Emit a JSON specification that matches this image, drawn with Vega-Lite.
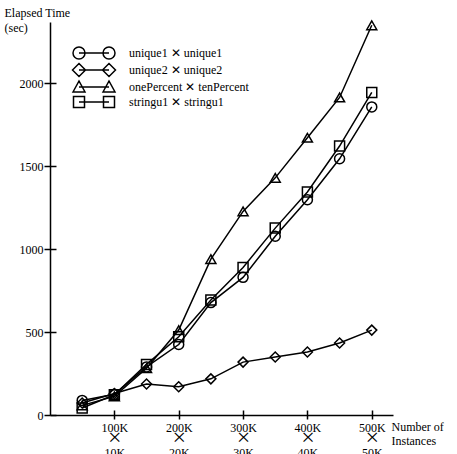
{
  "$schema": "https://vega.github.io/schema/vega-lite/v6.json",
  "width": 343,
  "height": 393,
  "autosize": "none",
  "padding": {"left": 50, "top": 22, "right": 64, "bottom": 39},
  "background": "white",
  "config": {"view": {"stroke": null}, "font": "Liberation Serif"},
  "data": {
    "values": [
      {"series": "unique1 ✕ unique1", "n": 50000, "time": 88},
      {"series": "unique1 ✕ unique1", "n": 100000, "time": 125},
      {"series": "unique1 ✕ unique1", "n": 150000, "time": 290},
      {"series": "unique1 ✕ unique1", "n": 200000, "time": 425},
      {"series": "unique1 ✕ unique1", "n": 250000, "time": 678},
      {"series": "unique1 ✕ unique1", "n": 300000, "time": 830},
      {"series": "unique1 ✕ unique1", "n": 350000, "time": 1078},
      {"series": "unique1 ✕ unique1", "n": 400000, "time": 1298},
      {"series": "unique1 ✕ unique1", "n": 450000, "time": 1545},
      {"series": "unique1 ✕ unique1", "n": 500000, "time": 1858},
      {"series": "unique2 ✕ unique2", "n": 50000, "time": 72},
      {"series": "unique2 ✕ unique2", "n": 100000, "time": 130},
      {"series": "unique2 ✕ unique2", "n": 150000, "time": 187},
      {"series": "unique2 ✕ unique2", "n": 200000, "time": 170},
      {"series": "unique2 ✕ unique2", "n": 250000, "time": 218},
      {"series": "unique2 ✕ unique2", "n": 300000, "time": 319},
      {"series": "unique2 ✕ unique2", "n": 350000, "time": 350},
      {"series": "unique2 ✕ unique2", "n": 400000, "time": 380},
      {"series": "unique2 ✕ unique2", "n": 450000, "time": 434},
      {"series": "unique2 ✕ unique2", "n": 500000, "time": 512},
      {"series": "onePercent ✕ tenPercent", "n": 50000, "time": 58},
      {"series": "onePercent ✕ tenPercent", "n": 100000, "time": 112},
      {"series": "onePercent ✕ tenPercent", "n": 150000, "time": 282},
      {"series": "onePercent ✕ tenPercent", "n": 200000, "time": 512},
      {"series": "onePercent ✕ tenPercent", "n": 250000, "time": 940},
      {"series": "onePercent ✕ tenPercent", "n": 300000, "time": 1228},
      {"series": "onePercent ✕ tenPercent", "n": 350000, "time": 1430},
      {"series": "onePercent ✕ tenPercent", "n": 400000, "time": 1672},
      {"series": "onePercent ✕ tenPercent", "n": 450000, "time": 1915},
      {"series": "onePercent ✕ tenPercent", "n": 500000, "time": 2350},
      {"series": "stringu1 ✕ stringu1", "n": 50000, "time": 42},
      {"series": "stringu1 ✕ stringu1", "n": 100000, "time": 122},
      {"series": "stringu1 ✕ stringu1", "n": 150000, "time": 305},
      {"series": "stringu1 ✕ stringu1", "n": 200000, "time": 472},
      {"series": "stringu1 ✕ stringu1", "n": 250000, "time": 693},
      {"series": "stringu1 ✕ stringu1", "n": 300000, "time": 890},
      {"series": "stringu1 ✕ stringu1", "n": 350000, "time": 1127},
      {"series": "stringu1 ✕ stringu1", "n": 400000, "time": 1345},
      {"series": "stringu1 ✕ stringu1", "n": 450000, "time": 1622},
      {"series": "stringu1 ✕ stringu1", "n": 500000, "time": 1945}
    ]
  },
  "layer": [
    {
      "mark": {"type": "line", "color": "black", "strokeWidth": 1.5},
      "encoding": {
        "x": {
          "field": "n", "type": "quantitative",
          "scale": {"domain": [0, 533000], "nice": false, "zero": true},
          "axis": {
            "values": [100000, 200000, 300000, 400000, 500000],
            "labelExpr": "[format(datum.value/1000,'d')+'K', format(datum.value/10000,'d')+'K']",
            "labelFont": "Liberation Serif", "labelFontSize": 12, "labelColor": "black",
            "labelLineHeight": 25, "labelPadding": 3, "labelFlush": false, "labelOverlap": false,
            "tickSize": 4, "tickWidth": 1.5, "tickColor": "black",
            "domainColor": "black", "domainWidth": 1.5, "grid": false,
            "title": ["Number of", "Instances"],
            "titleFont": "Liberation Serif", "titleFontSize": 12, "titleFontWeight": "normal", "titleColor": "black",
            "titleAlign": "left", "titleBaseline": "top", "titleX": 341, "titleY": 6, "titleLineHeight": 14
          }
        },
        "y": {
          "field": "time", "type": "quantitative",
          "scale": {"domain": [0, 2370], "nice": false},
          "axis": {
            "values": [0, 500, 1000, 1500, 2000], "format": "d",
            "labelFont": "Liberation Serif", "labelFontSize": 12, "labelColor": "black", "labelPadding": 1,
            "labelFlush": false, "labelOverlap": false,
            "tickSize": 6, "tickWidth": 1.5, "tickColor": "black",
            "domainColor": "black", "domainWidth": 1.5, "grid": false,
            "title": ["Elapsed Time", "(sec)"],
            "titleFont": "Liberation Serif", "titleFontSize": 12, "titleFontWeight": "normal", "titleColor": "black",
            "titleAngle": 0, "titleAlign": "left", "titleBaseline": "top", "titleX": -46, "titleY": -15, "titleLineHeight": 15
          }
        },
        "detail": {"field": "series"}
      }
    },
    {
      "mark": {"type": "point", "filled": false, "stroke": "black", "strokeWidth": 1.5, "size": 100, "opacity": 1},
      "encoding": {
        "x": {"field": "n", "type": "quantitative", "axis": null},
        "y": {"field": "time", "type": "quantitative", "axis": null},
        "shape": {
          "field": "series", "type": "nominal",
          "scale": {
            "domain": ["unique1 ✕ unique1", "unique2 ✕ unique2", "onePercent ✕ tenPercent", "stringu1 ✕ stringu1"],
            "range": ["circle", "diamond", "triangle-up", "square"]
          },
          "legend": null
        }
      }
    },
    {
      "transform": [{"filter": "false"}],
      "mark": {"type": "point", "filled": false, "stroke": "black", "strokeWidth": 1.5, "size": 100},
      "encoding": {
        "x": {"field": "n", "type": "quantitative", "axis": null},
        "y": {"field": "time", "type": "quantitative", "axis": null},
        "shape": {
          "field": "series", "type": "nominal",
          "scale": {
            "domain": ["unique1 ✕ unique1", "unique2 ✕ unique2", "onePercent ✕ tenPercent", "stringu1 ✕ stringu1"],
            "range": [
              "M-3,0L3,0M-1.8,0A1.2,1.2,0,1,1,-4.2,0A1.2,1.2,0,1,1,-1.8,0M4.2,0A1.2,1.2,0,1,1,1.8,0A1.2,1.2,0,1,1,4.2,0",
              "M-3,0L3,0M-4.3,0L-3,-1.3L-1.7,0L-3,1.3ZM1.7,0L3,-1.3L4.3,0L3,1.3Z",
              "M-3,0L3,0M-4.2,1L-3,-1.2L-1.8,1ZM1.8,1L3,-1.2L4.2,1Z",
              "M-3,0L3,0M-4.1,-1.1L-1.9,-1.1L-1.9,1.1L-4.1,1.1ZM1.9,-1.1L4.1,-1.1L4.1,1.1L1.9,1.1Z"
            ]
          },
          "legend": {
            "orient": "none", "legendX": 38, "legendY": 25, "title": null, "padding": 0,
            "symbolSize": 100, "labelOffset": 29, "rowPadding": -2,
            "labelFont": "Liberation Serif", "labelFontSize": 12, "labelColor": "black",
            "symbolStrokeColor": "black", "symbolStrokeWidth": 1.5, "symbolFillColor": "transparent", "symbolOpacity": 1
          }
        }
      }
    },
    {
      "mark": {"type": "point", "opacity": 0},
      "encoding": {
        "x": {
          "field": "n", "type": "quantitative",
          "axis": {"orient": "bottom", "values": [100000, 200000, 300000, 400000, 500000], "labelExpr": "'×'", "labelFont": "Liberation Serif", "labelFontSize": 24, "labelColor": "black", "labelBaseline": "middle", "labelPadding": 22, "labelFlush": false, "labelOverlap": false, "domain": false, "grid": false, "title": null, "tickSize": 5, "tickWidth": 1.5, "tickColor": "black", "offset": -5}
        },
        "y": {
          "field": "time", "type": "quantitative",
          "axis": {"orient": "left", "values": [0, 500, 1000, 1500, 2000], "labels": false, "domain": false, "grid": false, "title": null, "tickSize": 6, "tickWidth": 1.5, "tickColor": "black", "offset": -6}
        }
      }
    }
  ],
  "resolve": {
    "axis": {"x": "independent", "y": "independent"},
    "scale": {"shape": "independent"},
    "legend": {"shape": "independent"}
  }
}
